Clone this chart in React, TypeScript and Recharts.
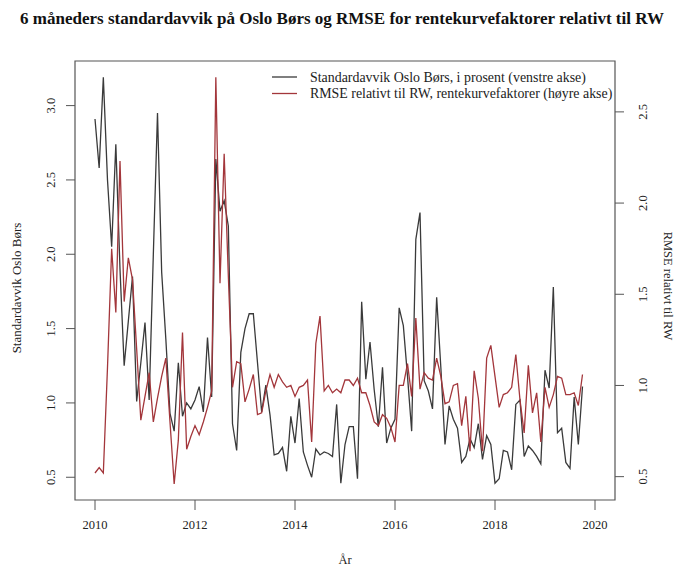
import React from "react";
import { LineChart, Line, XAxis, YAxis, ReferenceArea } from "recharts";

// Monthly series, Jan 2010 – Oct 2019
const stdOsloBors = [
  2.91, 2.58, 3.19, 2.5, 2.05, 2.74, 1.9, 1.25, 1.55, 1.85, 1.01, 1.27,
  1.54, 1.02, 2.0, 2.95, 1.88, 1.43, 0.93, 0.81, 1.27, 0.91, 1.0, 0.96,
  1.02, 1.11, 0.94, 1.44, 1.04, 2.64, 2.29, 2.36, 2.19, 0.86, 0.68, 1.34,
  1.5, 1.6, 1.6, 1.27, 0.94, 1.12, 0.92, 0.65, 0.66, 0.7, 0.54, 0.91,
  0.73, 1.03, 0.67, 0.58, 0.5, 0.69, 0.65, 0.67, 0.66, 0.64, 0.99, 0.46,
  0.72, 0.84, 0.84, 0.49, 1.68, 1.16, 1.41, 1.09, 0.84, 1.24, 0.73, 0.83,
  0.89, 1.64, 1.52, 1.18, 0.81, 2.1, 2.28, 1.15, 1.08, 0.96, 1.71, 1.24,
  0.72, 0.98, 0.89, 0.83, 0.6, 0.64, 0.76, 0.7, 0.86, 0.62, 0.78, 0.72,
  0.46, 0.49, 0.68, 0.67, 0.55, 0.99, 1.02, 0.64, 0.71, 0.68, 0.64, 0.59,
  1.22, 1.1, 1.78, 0.8, 0.83, 0.6, 0.56, 1.04, 0.72, 1.11,
];

const rmseRelRW = [
  0.52, 0.55, 0.52, 1.1, 1.75, 1.4, 2.23, 1.46, 1.7, 1.58, 1.2, 0.81,
  0.94, 1.07, 0.8, 0.93, 1.05, 1.15, 0.8, 0.46, 0.7, 1.29, 0.65, 0.72,
  0.78, 0.73, 0.8, 0.88, 0.97, 2.69, 1.56, 2.27, 1.6, 0.99, 1.13, 1.12,
  0.91, 0.98, 1.06, 0.84, 0.85, 0.97, 1.06, 0.99, 1.06, 1.02, 0.99, 1.0,
  0.94, 0.99, 1.0, 1.03, 0.69, 1.23, 1.38, 0.97, 1.0, 0.96, 0.98, 0.96,
  1.03, 1.03, 1.0, 1.04, 0.96, 0.96, 0.89, 0.8, 0.78, 0.84, 0.82, 0.77,
  0.69, 1.0, 1.0, 1.12, 0.94, 1.37, 0.98, 1.07, 1.04, 1.03, 1.15, 1.05,
  0.9, 0.91, 1.0, 1.01, 0.78, 0.94, 0.64, 1.08, 0.93, 0.64, 1.15, 1.22,
  1.05, 0.88, 0.95, 0.96, 0.99, 1.17, 0.92, 0.74, 1.11, 0.85, 0.96, 0.69,
  0.99, 0.88, 0.95, 1.05, 1.04, 0.95, 0.95, 0.96, 0.89, 1.06,
];

const startYear = 2010;
const monthsPerYear = 12;
const timeIndex = stdOsloBors.map((_, i) => startYear + i / monthsPerYear);

const xTicks = [2010, 2012, 2014, 2016, 2018, 2020];
const leftTicks = [0.5, 1.0, 1.5, 2.0, 2.5, 3.0];
const rightTicks = [0.5, 1.0, 1.5, 2.0, 2.5];

const title =
  "6 måneders standardavvik på Oslo Børs og RMSE for rentekurvefaktorer relativt til RW";
const legendLabels = [
  "Standardavvik Oslo Børs, i prosent (venstre akse)",
  "RMSE relativt til RW, rentekurvefaktorer (høyre akse)",
];
const xTitle = "År";
const leftTitle = "Standardavvik Oslo Børs";
const rightTitle = "RMSE relativt til RW";

const data = timeIndex.map((t, i) => ({
  t,
  std: stdOsloBors[i],
  rmse: rmseRelRW[i],
}));

const FONT = '"Liberation Serif", "Times New Roman", serif';
const BLACK = "#3a3a3a";
const RED = "#a3363b";
const AXIS = "#555";

const X_DOMAIN: [number, number] = [2009.6, 2020.4];
const L_DOMAIN: [number, number] = [0.347, 3.3];
const R_DOMAIN: [number, number] = [0.372, 2.779];

const fmt = (v: number) => v.toFixed(1);

const XTick = (props: any) => {
  const { x, y, payload } = props;
  return (
    <text x={x} y={y} dy={19} textAnchor="middle" fontFamily={FONT} fontSize={12.5} fill="#222">
      {payload.value}
    </text>
  );
};

const LeftTick = (props: any) => {
  const { x, y, payload } = props;
  const bx = x - 11;
  return (
    <text
      x={bx}
      y={y}
      transform={`rotate(-90 ${bx} ${y})`}
      textAnchor="middle"
      fontFamily={FONT}
      fontSize={12.5}
      fill="#222"
    >
      {fmt(payload.value)}
    </text>
  );
};

const RightTick = (props: any) => {
  const { x, y, payload } = props;
  const bx = x + 23;
  return (
    <text
      x={bx}
      y={y}
      transform={`rotate(-90 ${bx} ${y})`}
      textAnchor="middle"
      fontFamily={FONT}
      fontSize={12.5}
      fill="#222"
    >
      {fmt(payload.value)}
    </text>
  );
};

export default function App() {
  return (
    <div style={{ position: "absolute", left: 0, top: 0, width: 678, height: 568, background: "#fff" }}>
      <LineChart
        width={678}
        height={568}
        data={data}
        margin={{ top: 61, right: 0, bottom: 0, left: 0 }}
      >
        <XAxis
          dataKey="t"
          type="number"
          domain={X_DOMAIN}
          allowDataOverflow
          ticks={xTicks}
          interval={0}
          axisLine={false}
          tickLine={{ stroke: AXIS }}
          tickSize={10}
          tickMargin={0}
          height={68}
          tick={<XTick />}
        />
        <YAxis
          yAxisId="l"
          type="number"
          domain={L_DOMAIN}
          allowDataOverflow
          ticks={leftTicks}
          interval={0}
          axisLine={false}
          tickLine={{ stroke: AXIS }}
          tickSize={9}
          tickMargin={0}
          width={75}
          tick={<LeftTick />}
        />
        <YAxis
          yAxisId="r"
          orientation="right"
          type="number"
          domain={R_DOMAIN}
          allowDataOverflow
          ticks={rightTicks}
          interval={0}
          axisLine={false}
          tickLine={{ stroke: AXIS }}
          tickSize={9}
          tickMargin={0}
          width={63}
          tick={<RightTick />}
        />
        <ReferenceArea
          yAxisId="l"
          x1={X_DOMAIN[0]}
          x2={X_DOMAIN[1]}
          y1={L_DOMAIN[0]}
          y2={L_DOMAIN[1]}
          fill="none"
          fillOpacity={0}
          stroke={AXIS}
          strokeWidth={1.2}
          ifOverflow="visible"
        />
        <Line
          yAxisId="l"
          dataKey="std"
          type="linear"
          stroke={BLACK}
          strokeWidth={1.3}
          dot={false}
          activeDot={false}
          isAnimationActive={false}
        />
        <Line
          yAxisId="r"
          dataKey="rmse"
          type="linear"
          stroke={RED}
          strokeWidth={1.3}
          dot={false}
          activeDot={false}
          isAnimationActive={false}
        />
      </LineChart>
      <svg
        width={678}
        height={568}
        style={{ position: "absolute", left: 0, top: 0, pointerEvents: "none" }}
      >
        <text x={342} y={24} textAnchor="middle" fontFamily={FONT} fontSize={17} fontWeight="bold" fill="#111">
          {title}
        </text>
        <line x1={272} x2={297} y1={77} y2={77} stroke={BLACK} strokeWidth={1.3} />
        <line x1={272} x2={297} y1={93.5} y2={93.5} stroke={RED} strokeWidth={1.3} />
        <text x={310} y={81.5} fontFamily={FONT} fontSize={13.9} fill="#222">
          {legendLabels[0]}
        </text>
        <text x={310} y={98} fontFamily={FONT} fontSize={13.9} fill="#222">
          {legendLabels[1]}
        </text>
        <text x={345} y={564} textAnchor="middle" fontFamily={FONT} fontSize={12.5} fill="#222">
          {xTitle}
        </text>
        <text
          x={21}
          y={288}
          transform="rotate(-90 21 288)"
          textAnchor="middle"
          fontFamily={FONT}
          fontSize={13}
          fill="#222"
        >
          {leftTitle}
        </text>
        <text
          x={664}
          y={286}
          transform="rotate(90 664 286)"
          textAnchor="middle"
          fontFamily={FONT}
          fontSize={12.5}
          fill="#222"
        >
          {rightTitle}
        </text>
      </svg>
    </div>
  );
}
